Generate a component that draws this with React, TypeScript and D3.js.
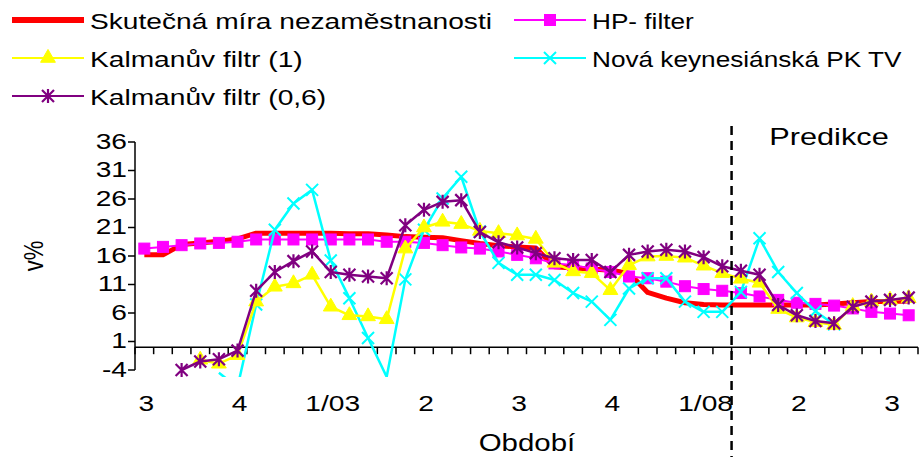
import React from "react";
import * as d3 from "d3";

const W = 920;
const H = 457;

// quarterly periods from Q3/2000 to Q4/2010, only every 5th label is shown
const periods = [
  "3", "4", "1/01", "2", "3", "4", "1/02", "2", "3", "4",
  "1/03", "2", "3", "4", "1/04", "2", "3", "4", "1/05", "2",
  "3", "4", "1/06", "2", "3", "4", "1/07", "2", "3", "4",
  "1/08", "2", "3", "4", "1/09", "2", "3", "4", "1/10", "2",
  "3", "4",
];

const actual = [
  16.2, 16.2, 18.0, 18.3, 18.6, 19.0, 20.0, 20.0, 20.0, 20.0,
  20.0, 19.9, 19.9, 19.7, 19.4, 19.3, 19.2, 18.7, 18.2, 17.8,
  17.6, 17.4, 14.1, 13.9, 13.7, 13.5, 13.0, 9.6, 8.6, 7.8,
  7.5, 7.4, 7.4, 7.4, 7.4, 7.4, 7.4, 7.6, 7.8, 8.0,
  8.0, 8.1,
];

const hp = [
  17.3, 17.6, 17.9, 18.2, 18.3, 18.5, 18.9, 18.9, 18.9, 18.9,
  18.9, 18.9, 18.9, 18.5, 18.5, 18.3, 17.9, 17.5, 17.3, 16.8,
  16.2, 15.6, 14.7, 14.4, 13.8, 13.2, 12.4, 12.1, 11.5, 10.7,
  10.2, 9.9, 9.5, 8.9, 8.3, 7.8, 7.6, 7.3, 6.8, 6.2,
  5.9, 5.6,
];

const kalman1 = [
  null, null, null, -2.2, -2.9, -1.4, 8.0, 10.6, 11.2, 12.7,
  7.1, 5.6, 5.4, 4.9, 17.3, 21.0, 22.0, 21.6, 20.4, 20.0,
  19.6, 19.0, 14.8, 13.3, 13.0, 10.0, 14.4, 15.9, 16.0, 15.7,
  14.3, 13.0, 12.0, 11.3, 6.7, 5.2, 4.4, 3.9, 7.2, 8.0,
  8.3, 8.6,
];

const nkpc = [
  null, null, null, null, -4.5, -7.0, 7.5, 20.6, 25.2, 27.6,
  15.2, 8.6, 1.6, -5.2, 11.9, 20.6, 26.1, 29.9, 20.3, 14.8,
  12.7, 12.7, 11.8, 9.5, 8.0, 4.8, 10.3, 12.1, 12.1, 8.0,
  6.2, 6.2, 9.7, 19.1, 13.2, 9.5, 6.3, 4.0, null, null,
  null, null,
];

const kalman06 = [
  null, null, -4.0, -2.5, -2.1, -0.6, 9.9, 13.2, 15.1, 16.8,
  13.2, 12.7, 12.4, 12.1, 21.4, 24.1, 25.5, 25.8, 20.2, 18.4,
  17.5, 16.5, 15.6, 15.3, 15.3, 13.2, 16.2, 16.8, 17.1, 16.8,
  15.8, 14.2, 13.4, 12.7, 7.4, 5.6, 4.6, 4.2, 7.1, 8.0,
  8.3, 8.7,
];

const yTicks = [-4, 1, 6, 11, 16, 21, 26, 31, 36];
const forecastFrom = 32; // first predicted quarter (3/08)

type Mk = "none" | "square" | "triangle" | "x" | "star";
interface Series { name: string; values: (number | null)[]; color: string; width: number; marker: Mk; }

const series: Series[] = [
  { name: "Skutečná míra nezaměstnanosti", values: actual, color: "#FF0000", width: 5, marker: "none" },
  { name: "HP- filter", values: hp, color: "#FF00FF", width: 2, marker: "square" },
  { name: "Nová keynesiánská PK TV", values: nkpc, color: "#00FFFF", width: 2.5, marker: "x" },
  { name: "Kalmanův filtr (1)", values: kalman1, color: "#FFFF00", width: 2.5, marker: "triangle" },
  { name: "Kalmanův filtr (0,6)", values: kalman06, color: "#800080", width: 2.5, marker: "star" },
];

const legendOrder = [
  { s: 0, col: 0, row: 0 },
  { s: 1, col: 1, row: 0 },
  { s: 3, col: 0, row: 1 },
  { s: 2, col: 1, row: 1 },
  { s: 4, col: 0, row: 2 },
];

const FONT = "'Liberation Sans', Arial, sans-serif";
const SX = 1.28; // the original picture is stretched horizontally

function Marker({ type, x, y, color }: { type: Mk; x: number; y: number; color: string }) {
  if (type === "square") {
    return <rect x={x - 5.5} y={y - 5.5} width={11} height={11} fill={color} stroke={color} />;
  }
  if (type === "triangle") {
    const p = d3.symbol(d3.symbolTriangle, 95)();
    return <path d={p || ""} transform={`translate(${x},${y})`} fill={color} stroke={color} />;
  }
  if (type === "x") {
    const r = 6;
    return (
      <path d={`M${x - r},${y - r}L${x + r},${y + r}M${x - r},${y + r}L${x + r},${y - r}`}
        stroke={color} strokeWidth={2} fill="none" />
    );
  }
  if (type === "star") {
    const r = 6;
    return (
      <path d={`M${x - r},${y - r}L${x + r},${y + r}M${x - r},${y + r}L${x + r},${y - r}M${x},${y - r - 1}L${x},${y + r + 1}`}
        stroke={color} strokeWidth={2.2} fill="none" />
    );
  }
  return null;
}

function Txt({ x, y, children, anchor = "start", size = 22, rotate = 0, sx = SX }: any) {
  return (
    <text transform={`translate(${x},${y}) scale(${sx},1)${rotate ? ` rotate(${rotate})` : ""}`}
      textAnchor={anchor} dominantBaseline="central" fontFamily={FONT} fontSize={size} fill="#000">
      {children}
    </text>
  );
}

export default function App() {
  const left = 135, right = 918, top = 142, bottom = 370;
  const x = d3.scaleBand<number>().domain(periods.map((_, i) => i)).range([left, right]);
  const y = d3.scaleLinear().domain([-4, 36]).range([bottom, top]);
  const bw = x.bandwidth();
  const cx = (i: number) => (x(i) as number) + bw / 2;
  const y0 = y(0);

  const line = d3.line<number | null>()
    .defined((d) => d !== null)
    .x((_, i) => cx(i))
    .y((d) => y(d as number));

  const cutX = (x(forecastFrom) as number);

  return (
    <svg width={W} height={H} style={{ position: "absolute", left: 0, top: 0, background: "#fff" }}>
      <defs>
        <clipPath id="plot">
          <rect x={left} y={top - 10} width={right - left + 2} height={bottom - top + 17} />
        </clipPath>
      </defs>

      {/* legend */}
      {legendOrder.map(({ s, col, row }) => {
        const sr = series[s];
        const lx = col === 0 ? 12 : 514;
        const ly = 20 + row * 38;
        return (
          <g key={sr.name}>
            <line x1={lx} x2={lx + 72} y1={ly} y2={ly} stroke={sr.color} strokeWidth={sr.marker === "none" ? 6 : 2} />
            <Marker type={sr.marker} x={lx + 36} y={ly} color={sr.color} />
            <Txt x={lx + 78} y={ly + 1} sx={col === 1 ? 1.19 : SX}>{sr.name}</Txt>
          </g>
        );
      })}

      {/* y axis */}
      <line x1={left} x2={left} y1={y(-4)} y2={y(36)} stroke="#000" strokeWidth={1.5} />
      {yTicks.map((t) => (
        <g key={t}>
          <line x1={left - 7} x2={left} y1={y(t)} y2={y(t)} stroke="#000" strokeWidth={1.5} />
          <Txt x={left - 8} y={y(t) - 1} anchor="end">{t}</Txt>
        </g>
      ))}
      <Txt x={33} y={256} rotate={-90} anchor="middle" size={22}>v%</Txt>

      {/* x axis at zero */}
      <line x1={left} x2={right} y1={y0} y2={y0} stroke="#000" strokeWidth={1.5} />
      {d3.range(periods.length + 1).map((k) => (
        <line key={k} x1={left + k * bw} x2={left + k * bw} y1={y0} y2={y0 + 7} stroke="#000" strokeWidth={1.5} />
      ))}
      {periods.map((p, i) => (i % 5 === 0 ? (
        <Txt key={i} x={cx(i) + 2} y={403} anchor="middle">{p}</Txt>
      ) : null))}
      <Txt x={527} y={443} anchor="middle" size={23}>Období</Txt>

      {/* series */}
      <g clipPath="url(#plot)">
        {series.map((s) => (
          <g key={s.name}>
            <path d={line(s.values) || ""} fill="none" stroke={s.color} strokeWidth={s.width} strokeLinejoin="round" />
            {s.values.map((v, i) => (v !== null && v >= -4 && v <= 36 ? (
              <Marker key={i} type={s.marker} x={cx(i)} y={y(v)} color={s.color} />
            ) : null))}
          </g>
        ))}
      </g>

      {/* forecast divider */}
      <line x1={cutX} x2={cutX} y1={126} y2={H} stroke="#000" strokeWidth={2.5} strokeDasharray="9,6" />
      <Txt x={829} y={137} anchor="middle" size={24}>Predikce</Txt>
    </svg>
  );
}
